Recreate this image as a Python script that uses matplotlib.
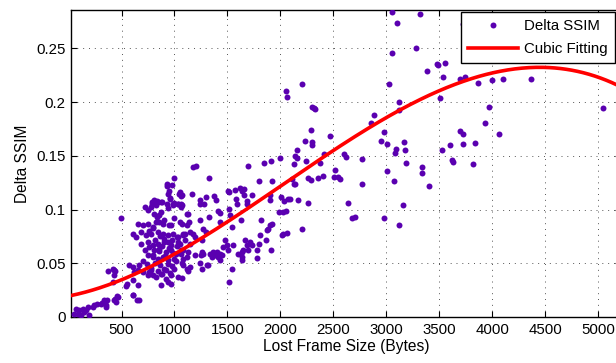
import numpy as np
import matplotlib
matplotlib.use("Agg")
import matplotlib.pyplot as plt

plt.rcParams['font.family'] = ['Liberation Sans', 'DejaVu Sans']

# ---- scatter data: Delta SSIM vs lost frame size ----
sparse_x = [3057, 3322, 3102, 3278, 3057, 3480, 3492, 3555, 3388, 3533,
            2207, 3026, 3511, 2299, 2315, 2330, 3124, 3124, 2882, 2859,
            2287, 2982, 2472, 2230, 2299, 2299, 2951, 3004, 3171, 2155,
            2139, 2160, 2412, 2601, 2617, 3095, 3080, 3180, 3599, 3524,
            2242, 2375, 2771, 3190, 3621, 3633]
sparse_y = [.2835, .2817, .2739, .2500, .2456, .2351, .2345, .2360, .2292, .2230,
            .2165, .2165, .2034, .1956, .1941, .1932, .2000, .1925, .1879, .1804,
            .1739, .1718, .1686, .1640, .1627, .1597, .1640, .1609, .1627, .1553,
            .1500, .1481, .1513, .1513, .1490, .1565, .1528, .1553, .1597, .1553,
            .1453, .1434, .1466, .1434, .1460, .1444]

mid_x = [2132, 2519, 3010, 3335, 3335, 2107, 2141, 2264, 2290, 2353,
         2406, 2507, 2542, 2564, 2771, 3070, 3401, 2091, 2166, 2264,
         2639, 3158, 2680, 2705, 2975, 3124, 2207]
mid_y = [.1422, .1369, .1357, .1392, .1336, .1283, .1239, .1295, .1273, .1292,
         .1313, .1304, .1304, .1283, .1239, .1261, .1217, .1096, .1087, .1065,
         .1065, .1043, .0922, .0931, .0922, .0857, .0823]

far_x = [3728, 3700, 3744, 3864, 3996, 4106, 4370, 3974, 5044, 3930,
         3700, 3722, 4062, 3722, 3841, 3819]
far_y = [.2729, .2217, .2235, .2177, .2207, .2217, .2217, .1953, .1947, .1804,
         .1730, .1705, .1705, .1606, .1618, .1422]

upmid_x = [2053, 2066, 1172, 1203, 1692, 1846, 1912, 2000, 1326, 1801,
           1924, 2130, 1052, 1068, 1163, 1241, 1295, 1371, 1392, 1502,
           1518, 1572, 1622, 1654, 1641, 1660, 1581, 1682, 1735, 1905,
           2009, 2037, 2075, 1899]
upmid_y = [.2105, .2044, .1392, .1401, .1401, .1434, .1453, .1478, .1292, .1270,
           .1270, .1236, .1164, .1131, .1149, .1087, .1115, .1127, .1087, .1174,
           .1162, .1183, .1202, .1190, .1171, .1140, .1096, .1084, .1140, .1140,
           .1118, .1084, .1096, .1087]

center_x = [1068, 1116, 1131, 1241, 1279, 1414, 1430, 1515, 1525, 1594,
            1682, 1326, 1241, 1628, 1817, 1987, 2028, 2050, 1068, 1116,
            1137, 1084, 1100, 1147, 1178, 1194, 1052, 1100, 1147, 1272,
            1298, 1257, 1430, 1541, 1808, 1871, 1886, 1902, 1924, 2013,
            2028, 2066, 1799, 1865, 1909, 1477, 1666, 1713, 1729, 1682,
            1697, 1777, 1461, 1493, 1509, 1556, 1603, 1635, 1650, 1641,
            1777, 1336, 1367, 1383, 1352, 1399, 1414, 1430, 1446, 1257,
            1272, 1251, 1194, 1084, 1131, 1062, 1116, 1084, 1430, 1241,
            1304, 1320, 1068, 1084, 1116, 1131, 1147, 1257, 1541, 1068,
            1518, 1635]
center_y = [.1043, .0963, .0954, .1050, .1050, .0985, .0972, .1003, .0947, .1056,
            .1056, .0931, .0907, .0901, .0901, .0978, .0978, .0985, .0870, .0854,
            .0885, .0761, .0777, .0792, .0777, .0745, .0684, .0714, .0684, .0823,
            .0792, .0714, .0885, .0839, .0761, .0808, .0823, .0854, .0870, .0761,
            .0777, .0783, .0684, .0714, .0628, .0714, .0714, .0699, .0668, .0668,
            .0621, .0621, .0652, .0668, .0628, .0668, .0590, .0605, .0621, .0559,
            .0553, .0590, .0605, .0575, .0559, .0605, .0559, .0590, .0575, .0605,
            .0590, .0575, .0575, .0621, .0605, .0590, .0559, .0544, .0535, .0507,
            .0482, .0482, .0498, .0482, .0444, .0428, .0466, .0451, .0451, .0367,
            .0326, .0535]

low_x = [779, 826, 747, 810, 857, 873, 936, 983, 1031, 1062,
         495, 653, 700, 747, 795, 826, 889, 967, 606, 637,
         684, 731, 779, 842, 889, 936, 983, 1031, 1078, 684,
         747, 795, 842, 904, 967, 1031, 810, 857, 920, 967,
         1014, 1062, 747, 795, 842, 889, 936, 999, 574, 606,
         621, 653, 669, 700, 747, 779, 826, 873, 920, 967,
         1031, 936, 873, 967, 606, 653, 606, 669, 370, 433,
         433, 417, 464, 433, 448, 338, 354, 307, 243, 228,
         181, 165, 149, 134, 102, 71, 86, 118, 196, 55]
low_y = [.1025, .1040, .0994, .0963, .0947, .0978, .1010, .1040, .1056, .1025,
         .0917, .0870, .0854, .0870, .0839, .0885, .0870, .0854, .0777, .0745,
         .0792, .0761, .0777, .0792, .0777, .0761, .0777, .0745, .0777, .0684,
         .0699, .0668, .0684, .0699, .0668, .0699, .0621, .0637, .0605, .0621,
         .0590, .0621, .0575, .0559, .0544, .0559, .0528, .0544, .0482, .0466,
         .0419, .0435, .0482, .0419, .0388, .0435, .0373, .0404, .0358, .0388,
         .0373, .0326, .0295, .0311, .0342, .0295, .0202, .0156, .0428, .0435,
         .0388, .0326, .0186, .0156, .0140, .0156, .0109, .0125, .0109, .0093,
         .0093, .0062, .0047, .0078, .0062, .0078, .0031, .0016, .0016, .0031]

edge_x = [266, 313, 360, 354, 439, 455, 422, 439, 542, 549, 611, 643]
edge_y = [.0118, .0130, .0162, .0093, .0171, .0193, .0451, .0426, .0286, .0305, .0202, .0156]

top_x = [722, 785, 832, 880, 832, 927, 958, 989, 942, 974,
         927, 999, 930, 952, 1046, 1062, 961, 810, 848, 873,
         785, 999, 1031, 1062]
top_y = [.1025, .1071, .1080, .1071, .0931, .1056, .1103, .1056, .1149, .1227,
         .1236, .1289, .1217, .1174, .1149, .1127, .1096, .1087, .1071, .1071,
         .1047, .1062, .1056, .1050]

dense_x = [720, 760, 800, 850, 880, 910, 950, 990, 1020, 700,
           740, 780, 820, 860, 900, 940, 980, 1010, 760, 800,
           840, 880, 920, 960, 1000, 820, 860, 900, 940, 980,
           1020, 760, 800, 850, 900, 950, 1000, 1050]
dense_y = [.062, .065, .058, .061, .066, .057, .064, .060, .066, .052,
           .049, .046, .050, .048, .045, .049, .047, .052, .042, .039,
           .043, .040, .044, .041, .045, .072, .075, .073, .070, .072,
           .074, .080, .083, .088, .090, .086, .092, .088]

# ---- cubic fitting curve: samples ----
fit_x = [23, 338, 653, 967, 1109, 1367, 1808, 2132, 2280, 2721,
         3036, 3350, 3650, 4074, 4389, 4704, 5019, 5170]
fit_y = [.0218, .0295, .0388, .0528, .0652, .0808, .1087, .1320, .1422, .1692,
         .1894, .2043, .2149, .2273, .2307, .2298, .2235, .2174]

xticks = [500, 1000, 1500, 2000, 2500, 3000, 3500, 4000, 4500, 5000]
yticks = [0, 0.05, 0.1, 0.15, 0.2, 0.25]
ytick_labels = ['0', '0.05', '0.1', '0.15', '0.2', '0.25']

xs = np.array(sparse_x + mid_x + far_x + upmid_x + center_x + low_x + edge_x + top_x + dense_x, float)
ys = np.array(sparse_y + mid_y + far_y + upmid_y + center_y + low_y + edge_y + top_y + dense_y, float)

coef = np.polyfit(fit_x, fit_y, 3)
xx = np.linspace(fit_x[0], 5400, 400)
yy = np.polyval(coef, xx)

W, H = 616, 363
fig = plt.figure(figsize=(W / 100, H / 100), dpi=100)
left_px, right_px, top_px, bot_px = 71, 621, 10, 317
ax = fig.add_axes([left_px / W, 1 - bot_px / H, (right_px - left_px) / W, (bot_px - top_px) / H])

ax.plot(xs, ys, 'o', color='#5a00b0', ms=4.3, mew=0, label='Delta SSIM', zorder=3)
ax.plot(xx, yy, '-', color='#ff0000', lw=2.6, label='Cubic Fitting', zorder=4)

ax.set_xlim(23, 5217)
ax.set_ylim(0, 0.2857)
ax.set_xticks(xticks)
ax.set_yticks(yticks)
ax.set_yticklabels(ytick_labels)
ax.tick_params(direction='in', length=4, width=0.8, labelsize=10.8, top=True, right=True,
               colors='black', pad=4)
ax.grid(True, linestyle=(0, (1, 5)), color='#555555', lw=0.7)
for s in ax.spines.values():
    s.set_linewidth(1.0)

ax.set_xlabel('Lost Frame Size (Bytes)', fontsize=11.2, labelpad=2)
ax.set_ylabel('Delta SSIM', fontsize=11.2, labelpad=4)

leg = ax.legend(loc='upper right', bbox_to_anchor=(615 / W, 1 - 12 / H),
                bbox_transform=fig.transFigure, borderaxespad=0, fancybox=False,
                framealpha=1, edgecolor='black', fontsize=10.8, handlelength=3.3,
                handletextpad=0.4, borderpad=0.5, labelspacing=0.55, markerscale=1.0)
leg.get_frame().set_linewidth(1.0)

fig.savefig('out.png', dpi=100)
